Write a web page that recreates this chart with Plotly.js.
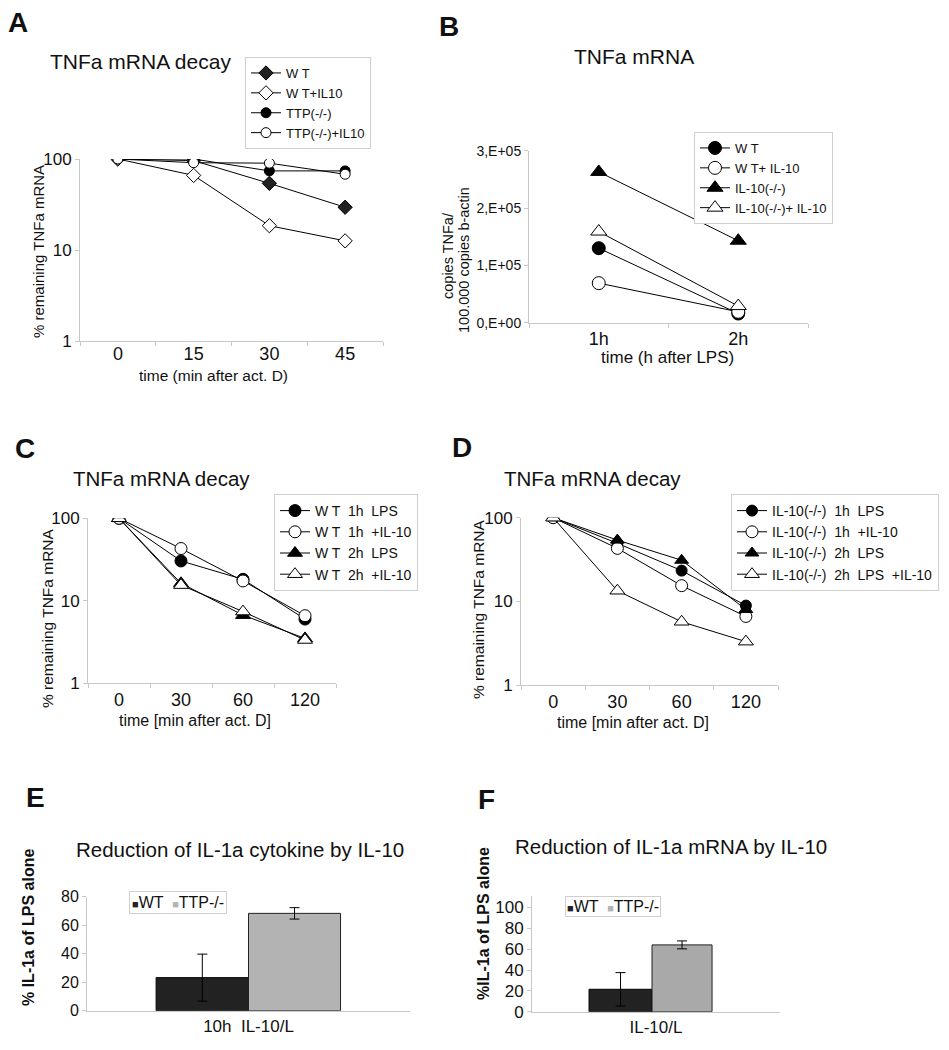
<!DOCTYPE html>
<html>
<head>
<meta charset="utf-8">
<script src="https://cdn.plot.ly/plotly-3.0.1.min.js"></script>
<style>html,body{margin:0;padding:0;background:#fff;}#chart{width:949px;height:1050px;}</style>
</head>
<body>
<div id="chart"></div>
<script>
// ---------------- DATA ----------------
// Panel A: TNFa mRNA decay (% remaining)
const catsA = ['0', '15', '30', '45'];
const A_WT = [100, 96, 54, 29.5];
const A_WT_IL10 = [100, 66, 18.5, 12.6];
const A_TTP = [100, 100, 74, 74];
const A_TTP_IL10 = [100, 91, 90, 68];

// Panel B: TNFa mRNA copies / 100.000 copies b-actin
const catsB = ['1h', '2h'];
const B_WT = [130000, 16000];
const B_WT_IL10 = [69000, 19000];
const B_IL10KO = [263000, 143000];
const B_IL10KO_IL10 = [159000, 29000];
const B_tickvals = [0, 100000, 200000, 300000];
const B_ticktext = ['0,E+00', '1,E+05', '2,E+05', '3,E+05'];

// Panel C: WT decay
const catsC = ['0', '30', '60', '120'];
const C_1h = [100, 30.4, 18.2, 6.0];
const C_1h_IL10 = [100, 43, 17.4, 6.6];
const C_2h = [100, 16.3, 6.7, 3.5];
const C_2h_IL10 = [100, 15.5, 7.4, 3.35];

// Panel D: IL-10(-/-) decay
const catsD = ['0', '30', '60', '120'];
const D_1h = [100, 49.4, 23.3, 8.9];
const D_1h_IL10 = [100, 43, 15.4, 6.6];
const D_2h = [100, 54, 31, 8.0];
const D_2h_IL10 = [100, 13.4, 5.7, 3.3];

// Panel E: IL-1a cytokine
const catsE = ['10h  IL-10/L'];
const E_WT = [23.2];
const E_WT_err = [16.5];
const E_TTP = [68.3];
const E_TTP_err = [4];

// Panel F: IL-1a mRNA
const catsF = ['IL-10/L'];
const F_WT = [21.5];
const F_WT_err = [16];
const F_TTP = [64.1];
const F_TTP_err = [3.8];

// ---------------- HELPERS ----------------
const W = 949, H = 1050;
const FONT = 'Liberation Sans, Arial, sans-serif';
const dx = (a, b) => [a / W, b / W];
const dy = (top, bottom) => [1 - bottom / H, 1 - top / H];
const px = v => v / W;
const py = v => 1 - v / H;

function line(x, y, name, xa, ya, leg, symbol, fill, size) {
  return {
    type: 'scatter', mode: 'lines+markers', x: x, y: y, name: name,
    xaxis: xa, yaxis: ya, legend: leg,
    line: {color: '#000', width: 1},
    marker: {symbol: symbol, size: size, color: fill, line: {color: '#000', width: 1}},
    hoverinfo: 'skip'
  };
}

function ax(extra) {
  return Object.assign({
    showgrid: false, zeroline: false, showline: true, linecolor: '#c8c8c8', linewidth: 1,
    ticks: 'outside', tickcolor: '#c8c8c8', ticklen: 4,
    tickfont: {family: FONT, size: 17, color: '#111'}, fixedrange: true
  }, extra);
}

function leg(x, y, size, extra) {
  return Object.assign({
    x: px(x), y: py(y), xanchor: 'left', yanchor: 'top', xref: 'paper', yref: 'paper',
    bgcolor: '#fff', bordercolor: '#cfcfcf', borderwidth: 1,
    font: {family: FONT, size: size, color: '#111'}, itemclick: false, itemdoubleclick: false
  }, extra || {});
}

function ann(text, x, y, size, opts) {
  return Object.assign({
    text: text, x: px(x), y: py(y), xref: 'paper', yref: 'paper',
    xanchor: 'center', yanchor: 'middle', showarrow: false,
    font: {family: FONT, size: size, color: '#111'}
  }, opts || {});
}

const WT_COLOR = '#222222';
const TTP_COLOR = '#b3b3b3';

// ---------------- TRACES ----------------
const traces = [
  // A
  line(catsA, A_WT, 'W T', 'x', 'y', 'legend', 'diamond', '#222', 11),
  line(catsA, A_WT_IL10, 'W T+IL10', 'x', 'y', 'legend', 'diamond', '#fff', 11),
  line(catsA, A_TTP, 'TTP(-/-)', 'x', 'y', 'legend', 'circle', '#000', 10),
  line(catsA, A_TTP_IL10, 'TTP(-/-)+IL10', 'x', 'y', 'legend', 'circle', '#fff', 10),
  // B
  line(catsB, B_WT, 'W T', 'x2', 'y2', 'legend2', 'circle', '#000', 13),
  line(catsB, B_WT_IL10, 'W T+ IL-10', 'x2', 'y2', 'legend2', 'circle', '#fff', 13),
  line(catsB, B_IL10KO, 'IL-10(-/-)', 'x2', 'y2', 'legend2', 'triangle-up', '#000', 14),
  line(catsB, B_IL10KO_IL10, 'IL-10(-/-)+ IL-10', 'x2', 'y2', 'legend2', 'triangle-up', '#fff', 14),
  // C
  line(catsC, C_1h, 'W T  1h  LPS', 'x3', 'y3', 'legend3', 'circle', '#000', 12),
  line(catsC, C_1h_IL10, 'W T  1h  +IL-10', 'x3', 'y3', 'legend3', 'circle', '#fff', 12),
  line(catsC, C_2h, 'W T  2h  LPS', 'x3', 'y3', 'legend3', 'triangle-up', '#000', 13),
  line(catsC, C_2h_IL10, 'W T  2h  +IL-10', 'x3', 'y3', 'legend3', 'triangle-up', '#fff', 13),
  // D
  line(catsD, D_1h, 'IL-10(-/-)  1h  LPS', 'x4', 'y4', 'legend4', 'circle', '#000', 11),
  line(catsD, D_1h_IL10, 'IL-10(-/-)  1h  +IL-10', 'x4', 'y4', 'legend4', 'circle', '#fff', 12),
  line(catsD, D_2h, 'IL-10(-/-)  2h  LPS', 'x4', 'y4', 'legend4', 'triangle-up', '#000', 12),
  line(catsD, D_2h_IL10, 'IL-10(-/-)  2h  LPS  +IL-10', 'x4', 'y4', 'legend4', 'triangle-up', '#fff', 13),
  // E
  {type: 'bar', x: catsE, y: E_WT, name: 'WT', xaxis: 'x5', yaxis: 'y5', showlegend: false,
   offset: -0.286, width: 0.286, marker: {color: WT_COLOR, line: {color: '#000', width: 1}},
   error_y: {type: 'data', array: E_WT_err, visible: true, color: '#000', thickness: 1, width: 5}, hoverinfo: 'skip'},
  {type: 'bar', x: catsE, y: E_TTP, name: 'TTP-/-', xaxis: 'x5', yaxis: 'y5', showlegend: false,
   offset: 0, width: 0.285, marker: {color: TTP_COLOR, line: {color: '#222', width: 1}},
   error_y: {type: 'data', array: E_TTP_err, visible: true, color: '#000', thickness: 1, width: 5}, hoverinfo: 'skip'},
  // F
  {type: 'bar', x: catsF, y: F_WT, name: 'WT', xaxis: 'x6', yaxis: 'y6', showlegend: false,
   offset: -0.27, width: 0.254, marker: {color: WT_COLOR, line: {color: '#000', width: 1}},
   error_y: {type: 'data', array: F_WT_err, visible: true, color: '#000', thickness: 1, width: 5}, hoverinfo: 'skip'},
  {type: 'bar', x: catsF, y: F_TTP, name: 'TTP-/-', xaxis: 'x6', yaxis: 'y6', showlegend: false,
   offset: -0.016, width: 0.242, marker: {color: '#a9a9a9', line: {color: '#222', width: 1}},
   error_y: {type: 'data', array: F_TTP_err, visible: true, color: '#000', thickness: 1, width: 5}, hoverinfo: 'skip'}
];

// compact bar legends (WT / TTP-/-)
const barLegend = '<span style="color:' + WT_COLOR + ';font-size:11px">■</span>WT  ' +
                  '<span style="color:' + TTP_COLOR + ';font-size:11px">■</span>TTP-/-';

// ---------------- LAYOUT ----------------
const logTicks = {type: 'log', range: [0, 2], tickvals: [1, 10, 100], ticktext: ['1', '10', '100']};
const layout = {
  width: W, height: H, margin: {l: 0, r: 0, t: 0, b: 0},
  paper_bgcolor: '#fff', plot_bgcolor: 'rgba(0,0,0,0)',
  barmode: 'overlay',
  font: {family: FONT, color: '#111'},
  xaxis: ax({domain: dx(80, 383), anchor: 'y', type: 'category', range: [-0.5, 3.5], tickson: 'boundaries', ticklabelstandoff: -4, tickfont: {family: FONT, size: 18, color: '#111'}}),
  yaxis: ax(Object.assign({domain: dy(159, 341), anchor: 'x'}, logTicks)),
  xaxis2: ax({domain: dx(529, 808), anchor: 'y2', type: 'category', range: [-0.5, 1.5], tickson: 'boundaries', tickfont: {family: FONT, size: 18, color: '#111'}}),
  yaxis2: ax({domain: dy(150.7, 322.7), anchor: 'x2', range: [0, 300000], tickvals: B_tickvals, ticktext: B_ticktext, tickfont: {family: FONT, size: 14, color: '#111'}}),
  xaxis3: ax({domain: dx(88, 336), anchor: 'y3', type: 'category', range: [-0.5, 3.5], tickson: 'boundaries', tickfont: {family: FONT, size: 18, color: '#111'}}),
  yaxis3: ax(Object.assign({domain: dy(518.3, 683.3), anchor: 'x3'}, logTicks)),
  xaxis4: ax({domain: dx(521, 778), anchor: 'y4', type: 'category', range: [-0.5, 3.5], tickson: 'boundaries', tickfont: {family: FONT, size: 18, color: '#111'}}),
  yaxis4: ax(Object.assign({domain: dy(517.7, 685), anchor: 'x4'}, logTicks)),
  xaxis5: ax({domain: dx(87, 410), anchor: 'y5', type: 'category', range: [-0.5, 0.5], ticks: '', tickfont: {family: FONT, size: 17, color: '#111'}}),
  yaxis5: ax({domain: dy(896.7, 1010.7), anchor: 'x5', range: [0, 80], tickvals: [0, 20, 40, 60, 80], tickfont: {family: FONT, size: 16, color: '#111'}}),
  xaxis6: ax({domain: dx(532, 780), anchor: 'y6', type: 'category', range: [-0.5, 0.5], ticks: '', tickfont: {family: FONT, size: 17, color: '#111'}}),
  yaxis6: ax({domain: dy(896, 1011.7), anchor: 'x6', range: [0, 111], tickvals: [0, 20, 40, 60, 80, 100], tickfont: {family: FONT, size: 17, color: '#111'}}),
  legend: leg(245, 57, 13),
  legend2: leg(694, 132, 13),
  legend3: leg(274, 494, 14),
  legend4: leg(731, 494, 14),
  annotations: [
    // panel letters
    ann('<b>A</b>', 18, 23, 28),
    ann('<b>B</b>', 449, 27, 28),
    ann('<b>C</b>', 25, 448, 28),
    ann('<b>D</b>', 462, 447, 28),
    ann('<b>E</b>', 35, 797, 28),
    ann('<b>F</b>', 487, 799, 28),
    // titles
    ann('TNFa mRNA decay', 140, 62, 21),
    ann('TNFa mRNA', 634, 57, 21),
    ann('TNFa mRNA decay', 161, 478, 20.5),
    ann('TNFa mRNA decay', 592, 478, 20.5),
    ann('Reduction of IL-1a cytokine by IL-10', 240, 849, 20.5),
    ann('Reduction of IL-1a mRNA by IL-10', 671, 846, 20.5),
    // axis titles
    ann('% remaining TNFa mRNA', 38, 252, 15, {textangle: -90}),
    ann('time (min after act. D)', 213, 376, 15.5),
    ann('copies TNFa/', 448, 256, 14.5, {textangle: -90}),
    ann('100.000 copies b-actin', 464, 260, 14.5, {textangle: -90}),
    ann('time (h after LPS)', 667, 358, 17),
    ann('% remaining TNFa mRNA', 47, 618, 15.5, {textangle: -90}),
    ann('time [min after act. D]', 195, 720, 16),
    ann('% remaining TNFa mRNA', 478, 609, 15.5, {textangle: -90}),
    ann('time [min after act. D]', 633, 722, 16),
    ann('<b>% IL-1a of LPS alone</b>', 28, 928, 16, {textangle: -90}),
    ann('<b>%IL-1a of LPS alone</b>', 483, 924, 16, {textangle: -90}),
    // bar legends
    ann(barLegend, 178, 902.5, 16, {bgcolor: '#fff', bordercolor: '#cfcfcf', borderwidth: 1, borderpad: 2}),
    ann(barLegend, 613, 906.5, 16, {bgcolor: '#fff', bordercolor: '#cfcfcf', borderwidth: 1, borderpad: 1})
  ]
};

Plotly.newPlot('chart', traces, layout, {staticPlot: true, displayModeBar: false});
</script>
</body>
</html>
